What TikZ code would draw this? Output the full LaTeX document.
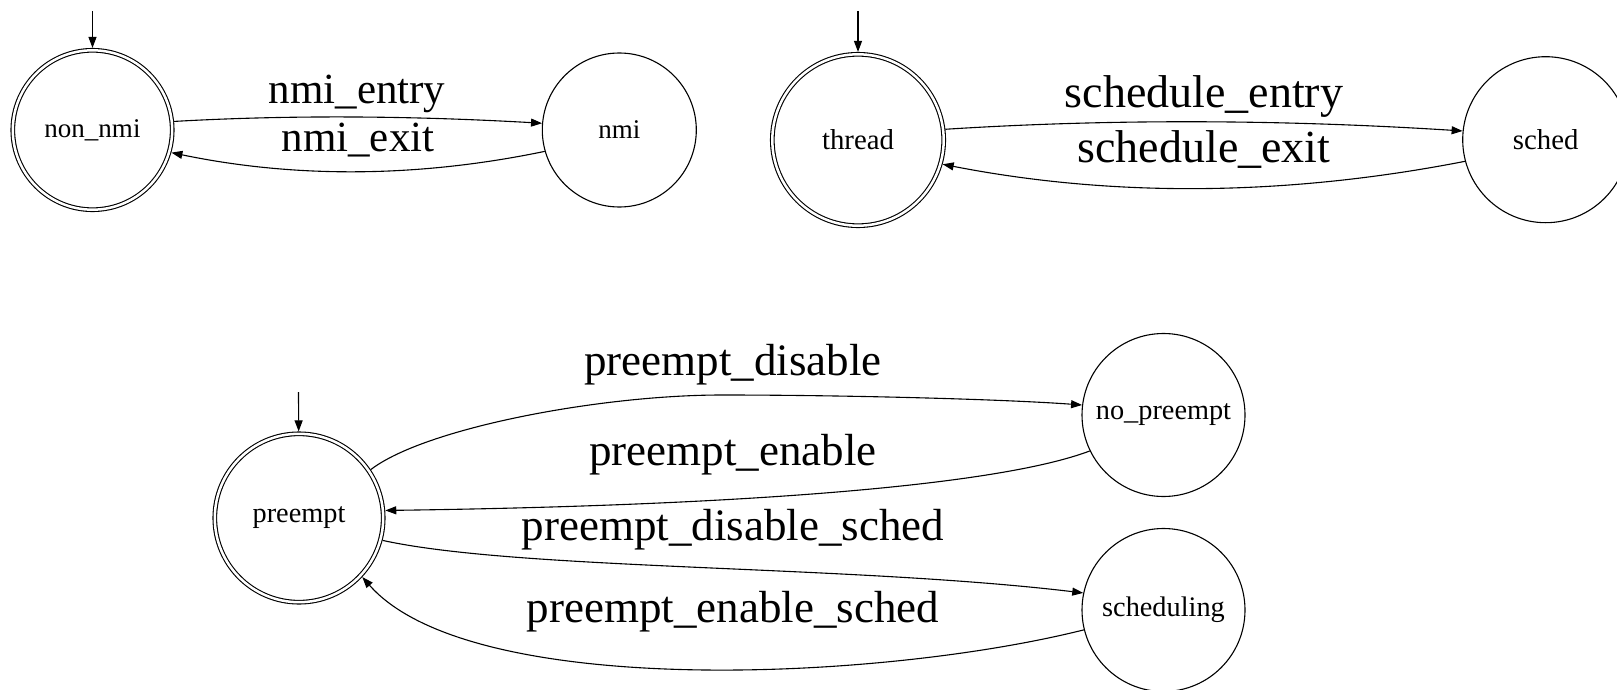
\documentclass[tikz,border=0pt]{standalone}
\usepackage{fontspec}
\setmainfont{Liberation Serif}
\usetikzlibrary{arrows.meta}

\tikzset{
  state/.style={circle, draw, line width=1.1pt, inner sep=0pt,
    font=\fontsize{27}{32}\selectfont},
  accepting/.style={double, double distance=2.5pt, outer sep=2.4pt},
  edge/.style={line width=1.1pt, -{Triangle[length=11pt,width=8pt]}},
  evlabel/.style={anchor=base, inner sep=0pt, font=\fontsize{43}{50}\selectfont},
  statetext/.style={font=\fontsize{#1}{#1}\selectfont},
  evtext/.style={font=\fontsize{#1}{#1}\selectfont},
}

\begin{document}
\begin{tikzpicture}[x=1pt, y=-1pt]
\useasboundingbox (0,0) rectangle (1617,690);
\clip (0,0) rectangle (1617,690);

% --- nmi automaton ---
\node[state, accepting, minimum size=159.4pt] (nonnmi) at (92.5,130) {non\_nmi};
\node[state, minimum size=154pt] (nmi) at (619.3,130) {nmi};
\coordinate (nonnmi-init) at (92.5,11);
\draw[edge] (nonnmi-init) -- (nonnmi);
\draw[edge] (nonnmi.6) .. controls +(123,-7) and +(-123,-7) .. (nmi.175);
\draw[edge] (nmi.196) .. controls +(-125,26) and +(125,26) .. (nonnmi.344);
\node[evlabel] (lnmientry) at (357,104) {nmi\_entry};
\node[evlabel] (lnmiexit) at (358,152) {nmi\_exit};

% --- scheduler automaton ---
\begin{scope}[state/.append style={statetext=28.8}, evlabel/.append style={evtext=46}]
\node[state, accepting, minimum size=171.4pt] (thread) at (858,140) {thread};
\node[state, minimum size=166pt] (sched) at (1545.7,139.7) {sched};
\coordinate (thread-init) at (858,11);
\draw[edge] (thread-init) -- (thread);
\draw[edge] (thread.7) .. controls +(173,-11) and +(-173,-11) .. (sched.174);
\draw[edge] (sched.195) .. controls +(-174,34) and +(174,34) .. (thread.344);
\node[evlabel] (lschedentry) at (1204,108) {schedule\_entry};
\node[evlabel] (lschedexit) at (1204,162) {schedule\_exit};
\end{scope}

% --- preemption automaton ---
\begin{scope}[state/.append style={statetext=28.3}, evlabel/.append style={evtext=45}]
\node[state, accepting, minimum size=168.4pt] (preempt) at (299,518) {preempt};
\node[state, minimum size=163pt] (nopreempt) at (1163.5,415) {no\_preempt};
\node[state, minimum size=163pt] (scheduling) at (1163.5,610) {scheduling};
\coordinate (preempt-init) at (298.5,392);
\draw[edge] (preempt-init) -- (preempt);
\draw[edge] (preempt.34) .. controls (425,428) and (600,395) .. (722,395)
  .. controls (840,395) and (1000,399) .. (nopreempt.173);
\draw[edge] (nopreempt.206) .. controls +(-90,34) and +(366,-5) .. (preempt.5);
\draw[edge] (preempt.345) .. controls +(137,30) and +(-234,-28) .. (scheduling.168);
\draw[edge] (scheduling.194) .. controls +(-203,51) and +(108,123) .. (preempt.317);
\node[evlabel] (lpdis) at (733,375) {preempt\_disable};
\node[evlabel] (lpen) at (733,465) {preempt\_enable};
\node[evlabel] (lpdissched) at (733,540) {preempt\_disable\_sched};
\node[evlabel] (lpensched) at (733,622) {preempt\_enable\_sched};
\end{scope}
\end{tikzpicture}
\end{document}
